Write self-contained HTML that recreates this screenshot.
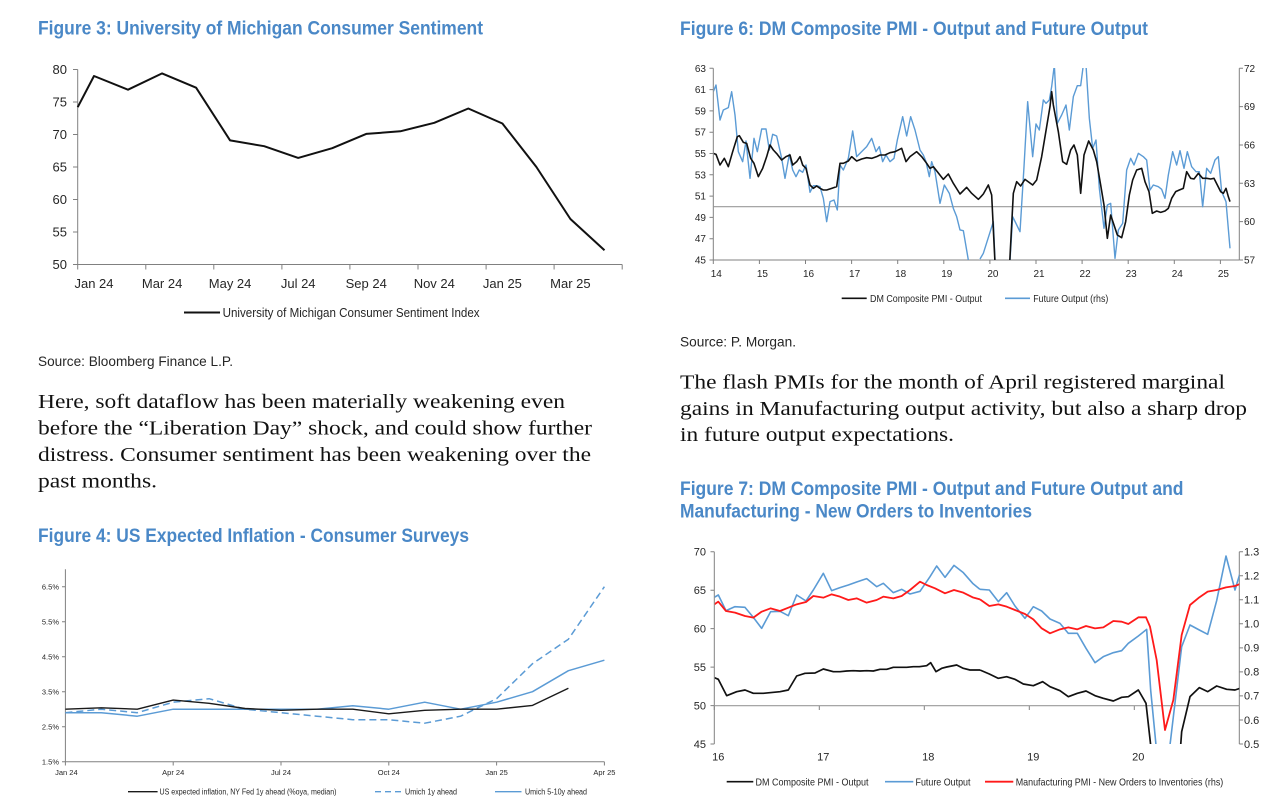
<!DOCTYPE html>
<html><head><meta charset="utf-8"><style>
html,body{margin:0;padding:0;background:#fff;}
svg{display:block;}
.t{font-family:"Liberation Sans Narrow","Liberation Sans",Arial,sans-serif;font-weight:bold;fill:#4a88c7;font-size:19.5px;}
.n{font-family:"Liberation Sans Narrow","Liberation Sans",Arial,sans-serif;fill:#262626;}
.p{font-family:"Liberation Serif","Times New Roman",serif;fill:#111;font-size:20.5px;}
.ax{stroke:#808080;stroke-width:1;fill:none;}
</style></head><body>
<svg width="1286" height="812" viewBox="0 0 1286 812" xmlns="http://www.w3.org/2000/svg">
<defs>
<clipPath id="c6"><rect x="713.8" y="68" width="525" height="192"/></clipPath>
<clipPath id="c7"><rect x="714.8" y="551" width="524.5" height="193"/></clipPath>
</defs>
<rect width="1286" height="812" fill="#fff"/>

<!-- ============ FIGURE 3 ============ -->
<text class="t" x="38" y="34.5" textLength="445" lengthAdjust="spacingAndGlyphs">Figure 3: University of Michigan Consumer Sentiment</text>
<g class="ax">
<line x1="77.7" y1="69.5" x2="77.7" y2="264.5"/>
<line x1="77.7" y1="264.5" x2="622.2" y2="264.5"/>
<path d="M73 69.5H77.7M73 102H77.7M73 134.5H77.7M73 167H77.7M73 199.5H77.7M73 232H77.7M73 264.5H77.7"/>
<path d="M77.7 264.5V269.5M145.8 264.5V269.5M213.8 264.5V269.5M281.9 264.5V269.5M349.9 264.5V269.5M418 264.5V269.5M486.1 264.5V269.5M554.1 264.5V269.5M622.2 264.5V269.5"/>
</g>
<g class="n" font-size="13" text-anchor="end">
<text x="67" y="74">80</text><text x="67" y="106.5">75</text><text x="67" y="139">70</text><text x="67" y="171.5">65</text><text x="67" y="204">60</text><text x="67" y="236.5">55</text><text x="67" y="269">50</text>
</g>
<g class="n" font-size="13" text-anchor="middle">
<text x="94" y="288">Jan 24</text><text x="162.1" y="288">Mar 24</text><text x="230.1" y="288">May 24</text><text x="298.2" y="288">Jul 24</text><text x="366.2" y="288">Sep 24</text><text x="434.3" y="288">Nov 24</text><text x="502.4" y="288">Jan 25</text><text x="570.4" y="288">Mar 25</text>
</g>
<polyline fill="none" stroke="#111" stroke-width="2" stroke-linejoin="round" points="77.7,107.2 94.0,76.0 128.0,89.7 162.1,73.4 196.1,87.7 230.1,140.4 264.2,146.2 298.2,157.9 332.2,148.2 366.2,133.9 400.3,131.3 434.3,122.8 468.3,108.5 502.4,123.5 536.4,167.0 570.4,219.0 604.5,250.2"/>
<line x1="184" y1="312.5" x2="220" y2="312.5" stroke="#111" stroke-width="2"/>
<text class="n" font-size="13" x="222.6" y="317" textLength="257" lengthAdjust="spacingAndGlyphs">University of Michigan Consumer Sentiment Index</text>

<text class="n" font-size="14" x="38" y="366" textLength="195" lengthAdjust="spacingAndGlyphs">Source: Bloomberg Finance L.P.</text>
<text class="p" x="38" y="408" textLength="527" lengthAdjust="spacingAndGlyphs">Here, soft dataflow has been materially weakening even</text>
<text class="p" x="38" y="434.5" textLength="554" lengthAdjust="spacingAndGlyphs">before the “Liberation Day” shock, and could show further</text>
<text class="p" x="38" y="461" textLength="553" lengthAdjust="spacingAndGlyphs">distress. Consumer sentiment has been weakening over the</text>
<text class="p" x="38" y="487.5" textLength="119" lengthAdjust="spacingAndGlyphs">past months.</text>

<!-- ============ FIGURE 4 ============ -->
<text class="t" x="38" y="542" textLength="431" lengthAdjust="spacingAndGlyphs">Figure 4: US Expected Inflation - Consumer Surveys</text>
<g class="ax">
<line x1="65.4" y1="569.2" x2="65.4" y2="761.7"/>
<line x1="65.4" y1="761.7" x2="604.4" y2="761.7"/>
<path d="M62 586.7H65.4M62 621.7H65.4M62 656.7H65.4M62 691.7H65.4M62 726.7H65.4M62 761.7H65.4"/>
<path d="M65.4 761.7V765.5M173.2 761.7V765.5M281 761.7V765.5M388.8 761.7V765.5M496.6 761.7V765.5M604.4 761.7V765.5"/>
</g>
<g class="n" font-size="7.5" text-anchor="end">
<text x="59" y="589.3">6.5%</text><text x="59" y="624.3">5.5%</text><text x="59" y="659.3">4.5%</text><text x="59" y="694.3">3.5%</text><text x="59" y="729.3">2.5%</text><text x="59" y="764.3">1.5%</text>
</g>
<g class="n" font-size="7.5" text-anchor="middle">
<text x="66.4" y="774.8">Jan 24</text><text x="173.2" y="774.8">Apr 24</text><text x="281" y="774.8">Jul 24</text><text x="388.8" y="774.8">Oct 24</text><text x="496.6" y="774.8">Jan 25</text><text x="604.4" y="774.8">Apr 25</text>
</g>
<polyline fill="none" stroke="#5b9bd5" stroke-width="1.5" stroke-linejoin="round" points="65.4,712.7 101.3,712.7 137.3,716.2 173.2,709.2 209.1,709.2 245.1,709.2 281.0,709.2 316.9,709.2 352.8,705.7 388.8,709.2 424.7,702.2 460.6,709.2 496.6,702.2 532.5,691.7 568.4,670.7 604.4,660.2"/>
<polyline fill="none" stroke="#5b9bd5" stroke-width="1.5" stroke-dasharray="7,4" stroke-linejoin="round" points="65.4,712.7 101.3,709.2 137.3,712.7 173.2,702.2 209.1,698.7 245.1,709.2 281.0,712.7 316.9,716.2 352.8,719.7 388.8,719.7 424.7,723.2 460.6,716.2 496.6,698.7 532.5,663.7 568.4,639.2 604.4,586.7"/>
<polyline fill="none" stroke="#1a1a1a" stroke-width="1.4" stroke-linejoin="round" points="65.4,709.2 101.3,707.8 137.3,709.2 173.2,700.1 209.1,703.3 245.1,708.5 281.0,710.3 316.9,709.2 352.8,709.2 388.8,713.8 424.7,710.3 460.6,709.2 496.6,709.2 532.5,705.4 568.4,688.2"/>
<line x1="128" y1="791.7" x2="157.6" y2="791.7" stroke="#1a1a1a" stroke-width="1.3"/>
<text class="n" font-size="8" x="159.5" y="794.5" textLength="177" lengthAdjust="spacingAndGlyphs">US expected inflation, NY Fed 1y ahead (%oya, median)</text>
<line x1="375" y1="791.7" x2="401.5" y2="791.7" stroke="#5b9bd5" stroke-width="1.3" stroke-dasharray="6,4"/>
<text class="n" font-size="8" x="405" y="794.5" textLength="52" lengthAdjust="spacingAndGlyphs">Umich 1y ahead</text>
<line x1="495" y1="791.7" x2="521.5" y2="791.7" stroke="#5b9bd5" stroke-width="1.3"/>
<text class="n" font-size="8" x="525" y="794.5" textLength="62" lengthAdjust="spacingAndGlyphs">Umich 5-10y ahead</text>

<!-- ============ FIGURE 6 ============ -->
<text class="t" x="680" y="35" textLength="468" lengthAdjust="spacingAndGlyphs">Figure 6: DM Composite PMI - Output and Future Output</text>
<g class="ax">
<line x1="713.3" y1="68.3" x2="713.3" y2="260"/>
<line x1="1239.3" y1="68.3" x2="1239.3" y2="260"/>
<line x1="713.3" y1="260" x2="1239.3" y2="260"/>
<path d="M709.5 68.3H713.3M709.5 89.6H713.3M709.5 110.9H713.3M709.5 132.2H713.3M709.5 153.5H713.3M709.5 174.8H713.3M709.5 196.1H713.3M709.5 217.4H713.3M709.5 238.7H713.3M709.5 260H713.3"/>
<path d="M1239.3 68.3H1243M1239.3 106.6H1243M1239.3 145H1243M1239.3 183.3H1243M1239.3 221.6H1243M1239.3 260H1243"/>
<path d="M713.3 260V264M759.4 260V264M805.5 260V264M851.6 260V264M897.7 260V264M943.8 260V264M989.9 260V264M1036 260V264M1082.1 260V264M1128.2 260V264M1174.3 260V264M1220.4 260V264"/>
</g>
<line x1="713.3" y1="206.7" x2="1239.3" y2="206.7" stroke="#9a9a9a" stroke-width="1.2"/>
<g class="n" font-size="10" text-anchor="end">
<text x="706" y="71.8">63</text><text x="706" y="93.1">61</text><text x="706" y="114.4">59</text><text x="706" y="135.7">57</text><text x="706" y="157">55</text><text x="706" y="178.3">53</text><text x="706" y="199.6">51</text><text x="706" y="220.9">49</text><text x="706" y="242.2">47</text><text x="706" y="263.5">45</text>
</g>
<g class="n" font-size="10">
<text x="1244" y="71.8">72</text><text x="1244" y="110.1">69</text><text x="1244" y="148.5">66</text><text x="1244" y="186.8">63</text><text x="1244" y="225.1">60</text><text x="1244" y="263.5">57</text>
</g>
<g class="n" font-size="10" text-anchor="middle">
<text x="716.3" y="277">14</text><text x="762.4" y="277">15</text><text x="808.5" y="277">16</text><text x="854.6" y="277">17</text><text x="900.7" y="277">18</text><text x="946.8" y="277">19</text><text x="992.9" y="277">20</text><text x="1039" y="277">21</text><text x="1085.1" y="277">22</text><text x="1131.2" y="277">23</text><text x="1177.3" y="277">24</text><text x="1223.4" y="277">25</text>
</g>
<g clip-path="url(#c6)" fill="none" stroke-linejoin="round">
<g transform="translate(680,55) scale(0.33333)">
<polyline vector-effect="non-scaling-stroke" stroke="#5b9bd5" stroke-width="1.4" points="100,110 108,90 120,195 130,165 145,158 155,110 165,180 175,290 188,320 198,258 210,370 222,250 232,290 245,222 258,222 268,285 278,238 290,243 305,310 315,370 328,298 338,345 348,365 358,345 368,352 378,330 390,412 400,392 410,392 420,395 430,430 440,500 450,440 462,435 472,465 480,330 490,345 505,310 518,228 530,305 545,290 560,275 575,250 588,290 598,275 608,320 618,300 630,320 642,310 652,255 668,185 680,243 692,185 705,225 720,285 730,300 738,320 748,365 755,320 765,350 780,445 793,390 808,415 820,460 830,485 840,525 850,527 865,615 875,650 895,625 900,615"/>
<polyline vector-effect="non-scaling-stroke" stroke="#111" stroke-width="1.6" points="100,295 108,298 120,330 133,310 145,335 158,290 172,245 178,242 190,262 200,265 212,310 222,325 235,365 248,340 260,305 270,270 280,285 292,298 305,315 318,305 330,300 338,330 350,320 360,305 368,330 378,340 390,390 400,400 410,393 420,400 430,405 440,405 455,400 470,395 480,325 490,325 505,318 515,305 530,318 545,312 560,308 575,310 590,305 600,300 615,300 630,293 645,290 665,280 678,320 690,305 710,290 725,305 740,325 750,340 760,335 790,373 805,357 820,385 840,417 860,397 875,415 895,433 900,428"/>
</g>
<g transform="translate(980,55) scale(0.33333)">
<polyline vector-effect="non-scaling-stroke" stroke="#5b9bd5" stroke-width="1.4" points="0,612 10,595 40,500 45,615 48,700 85,700 98,485 120,530 132,335 143,140 158,305 168,207 178,225 190,135 198,145 208,135 215,95 223,30 232,205 245,180 258,150 268,225 280,125 292,92 302,92 310,30 318,30 328,190 338,280 348,255 358,400 372,520 382,450 392,445 405,610 415,525 428,505 440,345 452,310 462,330 475,295 490,305 500,315 510,405 520,390 535,395 545,403 555,430 565,360 578,290 590,330 600,287 612,340 622,290 635,335 648,350 658,350 668,455 680,340 692,355 705,315 715,305 725,410 738,440 750,580"/>
<polyline vector-effect="non-scaling-stroke" stroke="#111" stroke-width="1.6" points="0,428 10,417 25,390 35,420 45,624 48,700 85,700 100,415 110,380 122,393 135,373 158,390 170,375 185,305 200,215 210,155 215,110 220,150 235,230 248,320 260,328 272,285 282,270 292,300 302,415 312,300 326,258 340,285 350,320 362,390 372,450 382,550 392,480 402,510 412,540 425,548 437,500 448,420 458,375 470,345 485,340 495,380 507,410 517,475 530,468 542,472 555,468 565,460 575,430 587,410 598,405 610,400 620,350 632,370 642,372 655,355 668,370 680,370 692,372 702,370 712,390 722,410 730,415 738,400 745,425 750,440"/>
</g>
</g>
<line x1="841.7" y1="298.3" x2="866.7" y2="298.3" stroke="#111" stroke-width="1.6"/>
<text class="n" font-size="10" x="870" y="301.8" textLength="112" lengthAdjust="spacingAndGlyphs">DM Composite PMI - Output</text>
<line x1="1005" y1="298.3" x2="1030" y2="298.3" stroke="#5b9bd5" stroke-width="1.6"/>
<text class="n" font-size="10" x="1033.3" y="301.8" textLength="75" lengthAdjust="spacingAndGlyphs">Future Output (rhs)</text>

<text class="n" font-size="14" x="680" y="346.7" textLength="116" lengthAdjust="spacingAndGlyphs">Source: P. Morgan.</text>
<text class="p" x="680" y="388.3" textLength="545" lengthAdjust="spacingAndGlyphs">The flash PMIs for the month of April registered marginal</text>
<text class="p" x="680" y="415" textLength="567" lengthAdjust="spacingAndGlyphs">gains in Manufacturing output activity, but also a sharp drop</text>
<text class="p" x="680" y="441" textLength="274" lengthAdjust="spacingAndGlyphs">in future output expectations.</text>

<!-- ============ FIGURE 7 ============ -->
<text class="t" x="680" y="495" textLength="503.5" lengthAdjust="spacingAndGlyphs">Figure 7: DM Composite PMI - Output and Future Output and</text>
<text class="t" x="680" y="517.5" textLength="352" lengthAdjust="spacingAndGlyphs">Manufacturing - New Orders to Inventories</text>
<g class="ax">
<line x1="714.3" y1="551.7" x2="714.3" y2="744"/>
<line x1="1239.3" y1="551.7" x2="1239.3" y2="744"/>
<path d="M710.5 551.7H714.3M710.5 590.2H714.3M710.5 628.6H714.3M710.5 667.1H714.3M710.5 705.6H714.3M710.5 744H714.3"/>
<path d="M1239.3 551.7H1243M1239.3 575.7H1243M1239.3 599.8H1243M1239.3 623.8H1243M1239.3 647.9H1243M1239.3 671.9H1243M1239.3 695.9H1243M1239.3 720H1243M1239.3 744H1243"/>
<path d="M714.3 705.7V710M819.3 705.7V710M924.3 705.7V710M1029.3 705.7V710M1134.3 705.7V710"/>
</g>
<line x1="714.3" y1="705.7" x2="1239.3" y2="705.7" stroke="#9a9a9a" stroke-width="1.2"/>
<g class="n" font-size="11" text-anchor="end">
<text x="706" y="555.5">70</text><text x="706" y="594">65</text><text x="706" y="632.4">60</text><text x="706" y="670.9">55</text><text x="706" y="709.4">50</text><text x="706" y="747.8">45</text>
</g>
<g class="n" font-size="11">
<text x="1244" y="555.5">1.3</text><text x="1244" y="579.5">1.2</text><text x="1244" y="603.6">1.1</text><text x="1244" y="627.6">1.0</text><text x="1244" y="651.7">0.9</text><text x="1244" y="675.7">0.8</text><text x="1244" y="699.7">0.7</text><text x="1244" y="723.8">0.6</text><text x="1244" y="747.8">0.5</text>
</g>
<g class="n" font-size="11" text-anchor="middle">
<text x="718.3" y="760.5">16</text><text x="823.3" y="760.5">17</text><text x="928.3" y="760.5">18</text><text x="1033.3" y="760.5">19</text><text x="1138.3" y="760.5">20</text>
</g>
<g clip-path="url(#c7)" fill="none" stroke-linejoin="round">
<g transform="translate(680,540) scale(0.33333)">
<polyline vector-effect="non-scaling-stroke" stroke="#111" stroke-width="1.7" points="103,413 115,418 140,467 170,455 195,450 220,460 250,460 300,455 325,450 350,408 375,400 405,399 430,387 460,395 480,395 500,393 520,392 540,393 560,392 580,393 600,388 620,388 640,382 660,382 680,382 700,380 718,380 740,377 752,368 768,395 785,385 800,381 815,378 830,375 850,385 870,390 900,390"/>
<polyline vector-effect="non-scaling-stroke" stroke="#5b9bd5" stroke-width="1.6" points="103,172 115,165 138,212 165,200 195,202 220,232 245,265 272,215 300,214 325,227 350,165 378,183 400,150 430,100 455,152 480,143 505,135 530,126 560,116 590,140 610,130 640,158 665,148 690,162 720,154 750,110 770,78 795,112 822,76 850,98 878,130 900,148"/>
<polyline vector-effect="non-scaling-stroke" stroke="#ff1a1a" stroke-width="1.8" points="103,193 115,185 138,213 165,218 195,228 220,233 245,215 272,205 300,213 325,203 350,193 378,186 400,168 430,173 455,163 480,170 505,180 530,175 560,188 590,180 610,170 640,175 665,168 690,150 720,125 740,135 765,145 795,160 822,150 850,158 878,172 900,178"/>
</g>
<g transform="translate(980,540) scale(0.33333)">
<polyline vector-effect="non-scaling-stroke" stroke="#111" stroke-width="1.7" points="0,390 28,402 55,415 80,410 105,418 130,432 160,437 188,425 210,440 240,452 265,470 292,460 318,453 345,467 370,475 400,483 425,472 445,470 475,450 498,490 512,615 518,700 596,700 605,575 630,470 658,443 683,455 710,438 740,448 765,450 780,445"/>
<polyline vector-effect="non-scaling-stroke" stroke="#5b9bd5" stroke-width="1.6" points="0,148 28,150 55,185 80,158 105,198 135,235 160,200 185,213 210,237 240,250 265,280 292,280 318,325 345,368 370,350 400,338 425,332 445,310 475,288 500,268 512,450 528,615 535,700 565,700 570,615 605,320 630,255 658,270 683,283 710,182 738,48 765,150 780,100"/>
<polyline vector-effect="non-scaling-stroke" stroke="#ff1a1a" stroke-width="1.8" points="0,178 28,198 55,193 80,200 105,210 135,222 160,238 185,265 210,280 240,268 265,262 292,268 318,258 345,265 370,262 400,243 425,245 445,252 475,232 498,232 510,260 530,360 555,570 580,480 605,285 630,195 658,172 683,155 710,150 738,142 765,138 780,132"/>
</g>
</g>
<line x1="726.7" y1="781.7" x2="753.3" y2="781.7" stroke="#111" stroke-width="1.7"/>
<text class="n" font-size="10.5" x="755.5" y="785.3" textLength="113" lengthAdjust="spacingAndGlyphs">DM Composite PMI - Output</text>
<line x1="885" y1="781.7" x2="913.3" y2="781.7" stroke="#5b9bd5" stroke-width="1.7"/>
<text class="n" font-size="10.5" x="915.5" y="785.3" textLength="55" lengthAdjust="spacingAndGlyphs">Future Output</text>
<line x1="985" y1="781.7" x2="1013.3" y2="781.7" stroke="#ff1a1a" stroke-width="1.8"/>
<text class="n" font-size="10.5" x="1015.7" y="785.3" textLength="207.6" lengthAdjust="spacingAndGlyphs">Manufacturing PMI - New Orders to Inventories (rhs)</text>
</svg>
</body></html>
